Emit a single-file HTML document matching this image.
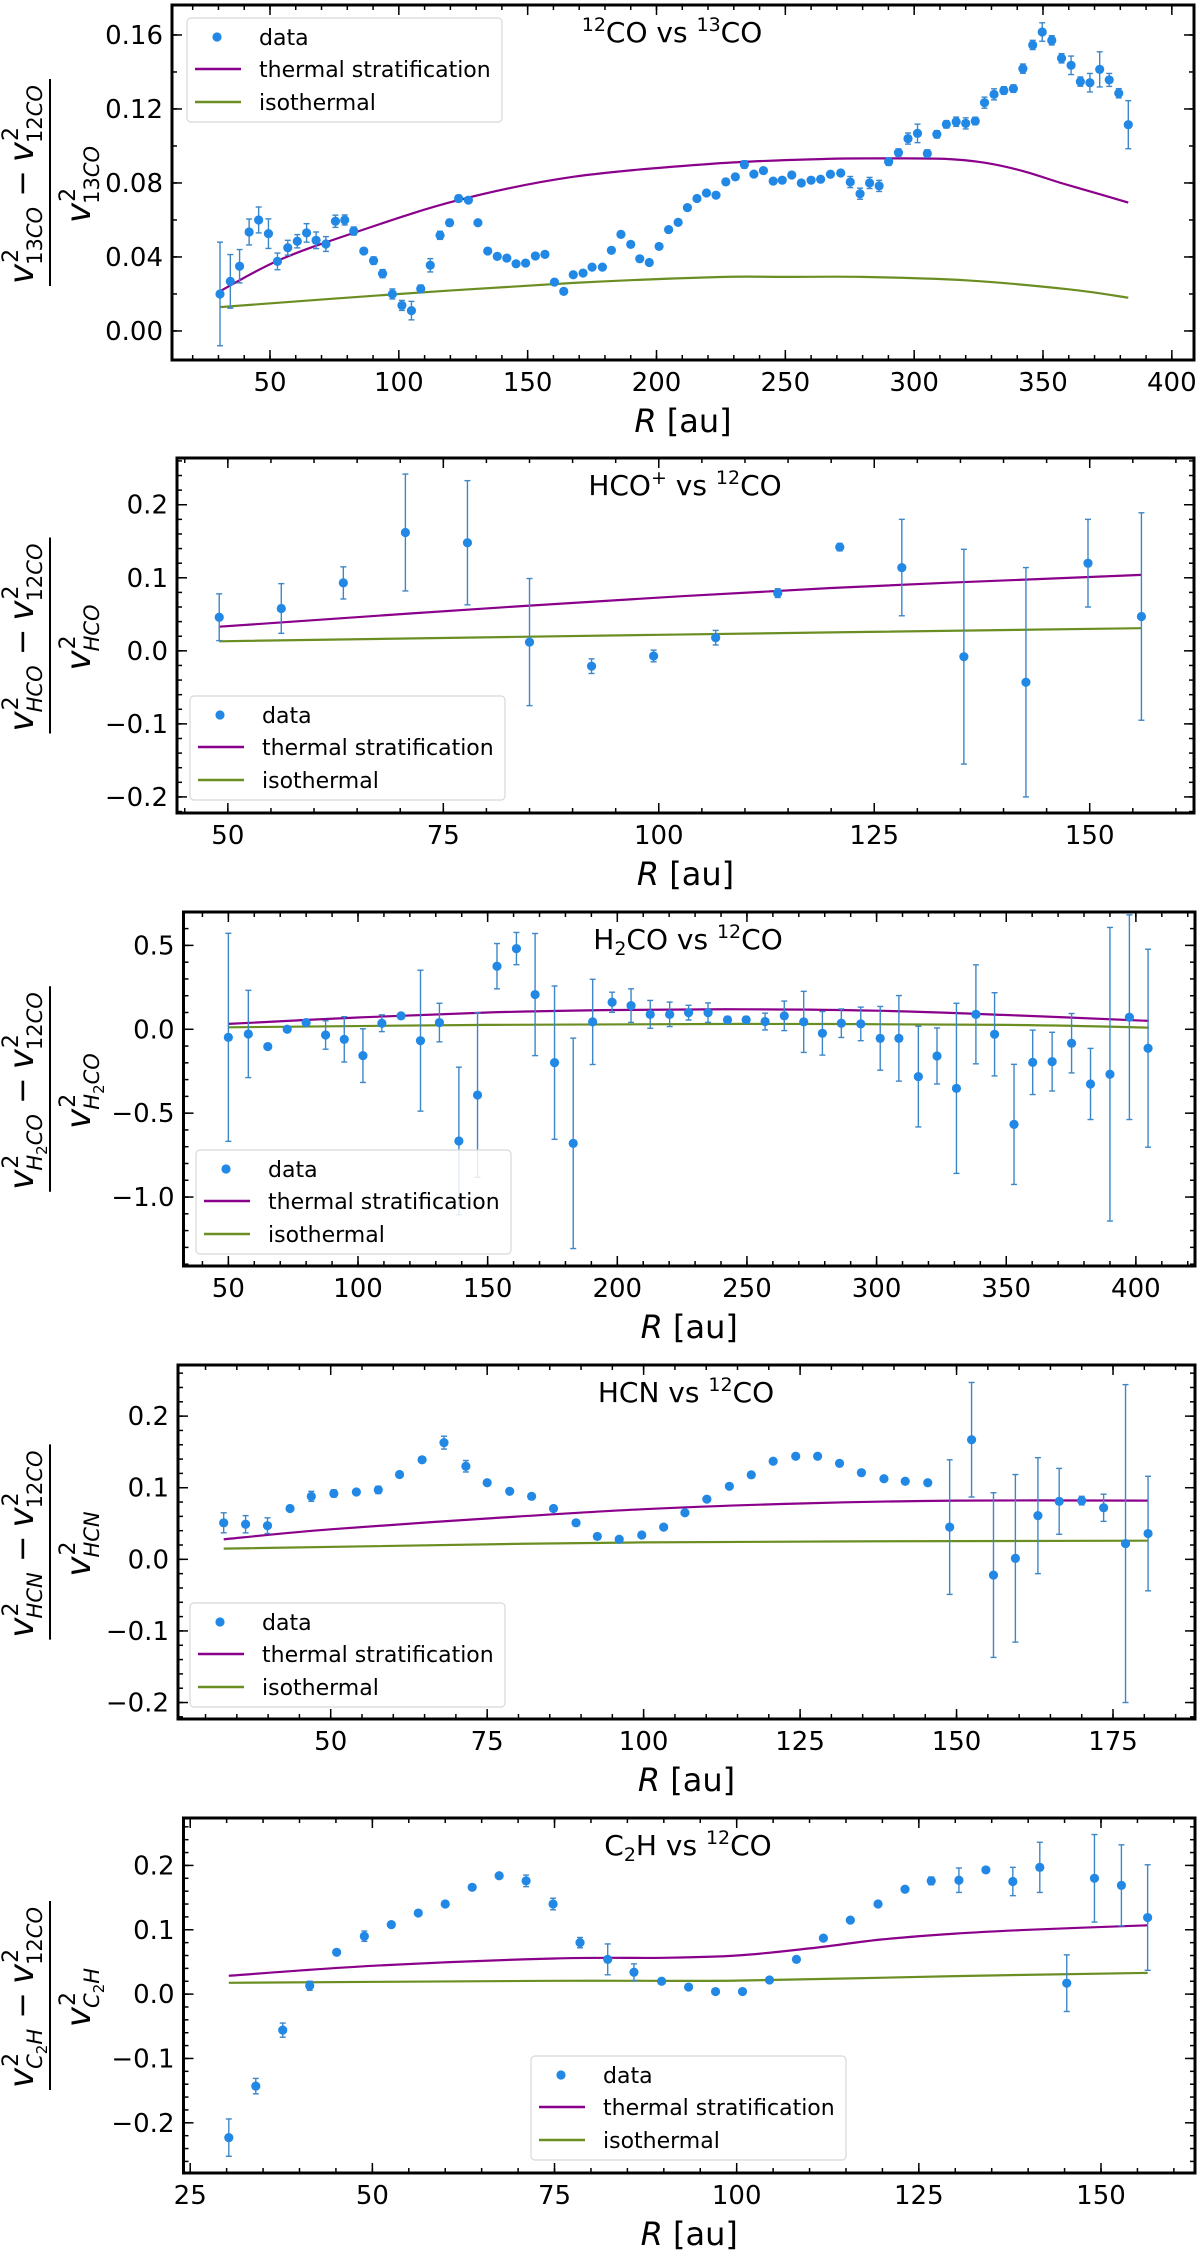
<!DOCTYPE html>
<html><head><meta charset="utf-8"><title>Velocity difference panels</title>
<style>
html,body{margin:0;padding:0;background:#fff;}
svg{display:block;font-family:"DejaVu Sans","Liberation Sans",sans-serif;}
</style></head>
<body>
<svg id="fig" width="1200" height="2251" viewBox="0 0 1200 2251" xmlns="http://www.w3.org/2000/svg">
<rect x="0" y="0" width="1200" height="2251" fill="#fff"/>
</svg>
<script>
// ---------- Panel 1 data: 12CO vs 13CO ----------
const p1R=[30.6,34.6,38.2,41.9,45.6,49.4,52.9,56.9,60.6,64.2,67.9,71.7,75.4,79,82.5,86.4,90.2,93.7,97.5,101.2,104.9,108.5,112.2,116,119.7,123.2,127,130.7,134.5,138.2,141.9,145.5,149.2,153,156.7,160.4,164,167.7,171.5,175,179,182.5,186.2,190,193.5,197.2,201,204.7,208.4,212,215.7,219.4,223.1,226.9,230.6,234.1,237.8,241.5,245.3,248.8,252.5,256.2,260,263.7,267.5,271.5,275.2,279,282.7,286.4,290.1,293.9,297.6,301.3,305.1,308.8,312.5,316.3,320,323.7,327.3,331,334.8,338.5,342.2,346,349.7,353.4,357.2,360.9,364.5,368.2,372,375.7,379.4,383.1];
const p1V=[0.020,0.0268,0.035,0.0535,0.060,0.0526,0.0376,0.045,0.0485,0.053,0.049,0.047,0.0593,0.060,0.054,0.0432,0.038,0.031,0.020,0.0138,0.011,0.0228,0.0355,0.0517,0.0585,0.0716,0.0707,0.0585,0.0432,0.0403,0.0394,0.0363,0.0367,0.0405,0.0414,0.0264,0.0214,0.0304,0.0313,0.0345,0.0345,0.0436,0.0522,0.0468,0.039,0.037,0.0457,0.0548,0.0587,0.0667,0.0716,0.0746,0.0734,0.0806,0.0833,0.090,0.0848,0.0867,0.081,0.0815,0.0843,0.080,0.0815,0.082,0.0847,0.0854,0.0805,0.0742,0.080,0.0784,0.0915,0.0964,0.104,0.1068,0.0959,0.1063,0.1117,0.1131,0.1122,0.1135,0.1234,0.1279,0.130,0.131,0.1418,0.1546,0.1616,0.1571,0.1474,0.1436,0.1348,0.1342,0.1414,0.1357,0.1285,0.1115];
const p1E=[0.028,0.0145,0.009,0.007,0.007,0.008,0.0045,0.004,0.0036,0.005,0.0045,0.004,0.0033,0.0027,0.0022,0.0015,0.002,0.0022,0.0027,0.0027,0.005,0.002,0.0036,0.0022,0.0018,0.0018,0.0015,0.0012,0.0012,0.0012,0.0015,0.0015,0.0015,0.0015,0.0015,0.0015,0.0015,0.0015,0.0015,0.0015,0.0015,0.0015,0.0015,0.0015,0.0015,0.0015,0.0015,0.0015,0.0015,0.0015,0.0015,0.0015,0.0015,0.0015,0.0015,0.002,0.0015,0.0015,0.0015,0.0015,0.0015,0.0015,0.0015,0.0015,0.0015,0.0015,0.003,0.003,0.003,0.003,0.002,0.002,0.003,0.005,0.002,0.002,0.002,0.0025,0.003,0.002,0.003,0.003,0.002,0.002,0.0025,0.0025,0.005,0.0025,0.0025,0.005,0.0025,0.005,0.0095,0.0035,0.0025,0.013];
const p1ThR=[30.6,53,82.5,123,168,223,266,290,312,327,342,357,372,383.1];
const p1ThV=[0.0215,0.038,0.053,0.0707,0.0834,0.0905,0.093,0.0933,0.093,0.091,0.0865,0.080,0.0739,0.0694];
const p1IsoR=[30.6,100,168,223,250,280,320,360,383.1];
const p1IsoV=[0.0129,0.020,0.026,0.0291,0.0292,0.0292,0.0274,0.0225,0.018];
const p1XTicks=[50,100,150,200,250,300,350,400];
const p1XLabels=["50","100","150","200","250","300","350","400"];
const p1YTicks=[0,0.04,0.08,0.12,0.16];
const p1YLabels=["0.00","0.04","0.08","0.12","0.16"];

// ---------- Panel 2 data: HCO+ vs 12CO ----------
const p2R=[49,56.2,63.4,70.6,77.8,85,92.2,99.4,106.6,113.8,121,128.2,135.4,142.6,149.8,156];
const p2V=[0.046,0.058,0.093,0.162,0.148,0.012,-0.021,-0.007,0.018,0.079,0.142,0.114,-0.008,-0.043,0.12,0.047];
const p2E=[0.032,0.034,0.022,0.08,0.085,0.087,0.01,0.008,0.01,0.006,0.005,0.066,0.147,0.157,0.06,0.142];
const p2ThR=[49,85,120,156];
const p2ThV=[0.033,0.062,0.086,0.104];
const p2IsoR=[49,100,156];
const p2IsoV=[0.013,0.022,0.031];
const p2XTicks=[50,75,100,125,150];
const p2XLabels=["50","75","100","125","150"];
const p2YTicks=[-0.2,-0.1,0,0.1,0.2];
const p2YLabels=["\u22120.2","\u22120.1","0.0","0.1","0.2"];

// ---------- Panel 3 data: H2CO vs 12CO ----------
const p3R=[50,57.7,65.2,72.7,80,87.5,94.7,101.9,109.2,116.6,124.1,131.4,138.9,146.1,153.6,161.1,168.3,175.8,183,190.5,198,205.3,212.7,220.2,227.5,235,242.5,249.7,257,264.4,271.9,279.1,286.4,293.9,301.4,308.6,316.1,323.3,330.8,338.3,345.5,353,360.2,367.7,375.2,382.5,390,397.5,404.7];
const p3V=[-0.048,-0.028,-0.103,0.0,0.04,-0.034,-0.06,-0.157,0.036,0.08,-0.068,0.04,-0.666,-0.392,0.376,0.481,0.207,-0.199,-0.68,0.044,0.161,0.141,0.089,0.089,0.099,0.099,0.056,0.056,0.046,0.08,0.044,-0.024,0.036,0.032,-0.054,-0.054,-0.282,-0.159,-0.352,0.089,-0.03,-0.567,-0.197,-0.193,-0.083,-0.326,-0.268,0.072,-0.113];
const p3E=[0.62,0.26,0.01,0.01,0.01,0.085,0.135,0.16,0.05,0.01,0.42,0.115,0.44,0.49,0.135,0.096,0.364,0.457,0.627,0.254,0.06,0.1,0.083,0.073,0.044,0.058,0.02,0.02,0.05,0.088,0.182,0.13,0.085,0.1,0.19,0.255,0.3,0.167,0.507,0.295,0.248,0.358,0.192,0.175,0.177,0.212,0.875,0.61,0.59];
const p3ThR=[50,100,150,200,250,300,350,405];
const p3ThV=[0.032,0.07,0.1,0.115,0.119,0.111,0.085,0.05];
const p3IsoR=[50,150,250,350,405];
const p3IsoV=[0.012,0.026,0.032,0.026,0.01];
const p3XTicks=[50,100,150,200,250,300,350,400];
const p3XLabels=["50","100","150","200","250","300","350","400"];
const p3YTicks=[-1.0,-0.5,0,0.5];
const p3YLabels=["\u22121.0","\u22120.5","0.0","0.5"];

// ---------- Panel 4 data: HCN vs 12CO ----------
const p4R=[32.9,36.4,39.9,43.5,46.9,50.5,54.1,57.6,61,64.6,68.1,71.6,75,78.6,82.1,85.6,89.2,92.6,96.1,99.7,103.2,106.6,110.1,113.7,117.2,120.7,124.3,127.8,131.3,134.8,138.4,141.8,145.4,148.9,152.4,155.9,159.4,163,166.4,170,173.5,177,180.6];
const p4V=[0.051,0.049,0.047,0.071,0.088,0.092,0.094,0.097,0.1185,0.139,0.163,0.130,0.107,0.095,0.088,0.071,0.051,0.032,0.028,0.034,0.045,0.065,0.084,0.102,0.118,0.137,0.144,0.144,0.134,0.121,0.1125,0.109,0.107,0.045,0.167,-0.022,0.0014,0.061,0.081,0.082,0.072,0.022,0.036];
const p4E=[0.014,0.012,0.011,0.004,0.007,0.005,0.003,0.005,0.003,0.004,0.009,0.008,0.003,0.003,0.003,0.003,0.003,0.003,0.003,0.003,0.003,0.003,0.003,0.003,0.003,0.003,0.003,0.003,0.003,0.003,0.003,0.003,0.003,0.094,0.08,0.115,0.117,0.081,0.046,0.006,0.019,0.222,0.08];
const p4ThR=[32.9,50,75,100,125,150,180.6];
const p4ThV=[0.028,0.042,0.057,0.07,0.078,0.082,0.082];
const p4IsoR=[32.9,100,180.6];
const p4IsoV=[0.015,0.0236,0.026];
const p4XTicks=[50,75,100,125,150,175];
const p4XLabels=["50","75","100","125","150","175"];
const p4YTicks=[-0.2,-0.1,0,0.1,0.2];
const p4YLabels=["\u22120.2","\u22120.1","0.0","0.1","0.2"];

// ---------- Panel 5 data: C2H vs 12CO ----------
const p5R=[30.3,34,37.7,41.4,45.1,48.9,52.6,56.3,60,63.7,67.4,71.1,74.8,78.5,82.3,85.9,89.7,93.4,97.1,100.8,104.5,108.2,111.9,115.6,119.4,123.1,126.7,130.5,134.2,137.9,141.6,145.3,149.1,152.8,156.4];
const p5V=[-0.223,-0.143,-0.056,0.013,0.065,0.09,0.108,0.126,0.14,0.166,0.184,0.176,0.14,0.08,0.054,0.034,0.02,0.011,0.004,0.004,0.022,0.054,0.087,0.115,0.14,0.163,0.176,0.177,0.193,0.175,0.197,0.017,0.18,0.169,0.119];
const p5E=[0.029,0.012,0.011,0.007,0.004,0.008,0.003,0.003,0.003,0.004,0.004,0.009,0.009,0.008,0.024,0.013,0.003,0.003,0.003,0.003,0.003,0.003,0.003,0.003,0.003,0.003,0.006,0.019,0.004,0.022,0.039,0.044,0.068,0.063,0.082];
const p5ThR=[30.3,50,75,90,100,110,120,130,140,156.4];
const p5ThV=[0.0285,0.044,0.0554,0.0565,0.06,0.071,0.085,0.094,0.1,0.107];
const p5IsoR=[30.3,75,100,130,156.4];
const p5IsoV=[0.0176,0.0207,0.021,0.028,0.033];
const p5XTicks=[25,50,75,100,125,150];
const p5XLabels=["25","50","75","100","125","150"];
const p5YTicks=[-0.2,-0.1,0,0.1,0.2];
const p5YLabels=["\u22120.2","\u22120.1","0.0","0.1","0.2"];

const NS="http://www.w3.org/2000/svg";
const fig=document.getElementById('fig');
function mk(tag,attrs,parent){const e=document.createElementNS(NS,tag);for(const k in attrs)e.setAttribute(k,attrs[k]);parent.appendChild(e);return e;}

const DATA_C="#2188e6", ERR_C="#3d87c9", TH_C="#8b008b", ISO_C="#6b8e23";

function vterm(g,x,base,subParts){
  const v=mk('text',{x:x,y:base,'font-size':34,'font-style':'italic'},g);v.textContent='v';
  const wv=v.getComputedTextLength();
  const s=mk('text',{x:x+wv+1,y:base-15,'font-size':22},g);s.textContent='2';
  const sub=mk('text',{x:x+wv-1,y:base+9,'font-size':21},g);
  subParts.forEach(p=>{const t=mk('tspan',{},sub);t.textContent=p[0];
    if(p[1]==='i')t.setAttribute('font-style','italic');
    if(p[1]==='s'){t.setAttribute('font-size',15);t.setAttribute('dy',5);}
    if(p[1]==='ib'){t.setAttribute('font-style','italic');t.setAttribute('dy',-5);}
  });
  return wv+Math.max(s.getComputedTextLength(),sub.getComputedTextLength())+3;
}

function smoothPath(pts){
  let d='M'+pts[0][0].toFixed(1)+','+pts[0][1].toFixed(1);
  for(let i=0;i<pts.length-1;i++){
    const p0=pts[Math.max(0,i-1)],p1=pts[i],p2=pts[i+1],p3=pts[Math.min(pts.length-1,i+2)];
    const c1=[p1[0]+(p2[0]-p0[0])/6,p1[1]+(p2[1]-p0[1])/6];
    const c2=[p2[0]-(p3[0]-p1[0])/6,p2[1]-(p3[1]-p1[1])/6];
    d+='C'+c1[0].toFixed(1)+','+c1[1].toFixed(1)+' '+c2[0].toFixed(1)+','+c2[1].toFixed(1)+' '+p2[0].toFixed(1)+','+p2[1].toFixed(1);
  }
  return d;
}

function drawPanel(n,c,R,V,E,thR,thV,isoR,isoV,xt,xl,yt,yl){
  const g=mk('g',{},fig);
  
  
  const sx=r=>c.L+(r-c.xmin)/(c.xmax-c.xmin)*(c.R-c.L);
  const sy=v=>c.B-(v-c.ymin)/(c.ymax-c.ymin)*(c.B-c.T);
  const cid='clip'+n;
  const cp=mk('clipPath',{id:cid},g);mk('rect',{x:c.L,y:c.T,width:c.R-c.L,height:c.B-c.T},cp);
  const tk=mk('g',{stroke:'#000','stroke-width':1.5},g);
  
  
  const tick=(x1,y1,x2,y2)=>mk('line',{x1:x1,y1:y1,x2:x2,y2:y2},tk);
  for(let v=Math.ceil(c.xmin/c.xm)*c.xm;v<=c.xmax;v+=c.xm){const x=sx(v);tick(x,c.B,x,c.B-5);tick(x,c.T,x,c.T+5);}
  for(let k=Math.ceil(c.ymin/c.ym);k*c.ym<=c.ymax;k++){const y=sy(k*c.ym);tick(c.L,y,c.L+5,y);tick(c.R,y,c.R-5,y);}
  xt.forEach((v,i)=>{const x=sx(v);tick(x,c.B,x,c.B-10);tick(x,c.T,x,c.T+10);
    const t=mk('text',{x:x,y:c.B+31,'font-size':26,'text-anchor':'middle'},g);t.textContent=xl[i];
    
    });
  yt.forEach((v,i)=>{const y=sy(v);tick(c.L,y,c.L+10,y);tick(c.R,y,c.R-10,y);
    const t=mk('text',{x:c.L-9,y:y+9,'font-size':26,'text-anchor':'end'},g);t.textContent=yl[i];
    
    });
  const line=(xs,ys,col,name)=>{const pts=xs.map((r,i)=>[sx(r),sy(ys[i])]);
    const p=mk('path',{d:smoothPath(pts),fill:'none',stroke:col,'stroke-width':2.2,'clip-path':'url(#'+cid+')'},g);
    
    };
  line(thR,thV,TH_C,'thermal-stratification-line');
  line(isoR,isoV,ISO_C,'isothermal-line');
  const dg=mk('g',{'clip-path':'url(#'+cid+')'},g);
  
  
  R.forEach((r,i)=>{const x=sx(r),y1=sy(V[i]+E[i]),y2=sy(V[i]-E[i]);
    mk('line',{x1:x,y1:y1,x2:x,y2:y2,stroke:ERR_C,'stroke-width':1.4},dg);
    mk('line',{x1:x-3,y1:y1,x2:x+3,y2:y1,stroke:ERR_C,'stroke-width':1.4},dg);
    mk('line',{x1:x-3,y1:y2,x2:x+3,y2:y2,stroke:ERR_C,'stroke-width':1.4},dg);
    const m=mk('circle',{cx:x,cy:sy(V[i]),r:4.6,fill:DATA_C},dg);
    
    });
  const fr=mk('rect',{x:c.L,y:c.T,width:c.R-c.L,height:c.B-c.T,fill:'none',stroke:'#000','stroke-width':3},g);
  
  
  const tt=mk('text',{x:c.tx,y:c.ty,'font-size':28,'text-anchor':'middle'},g);
  
  
  c.title.forEach(p=>{const s=mk('tspan',{},tt);s.textContent=p[0];
    if(p[1]==='sup'){s.setAttribute('font-size',19);s.setAttribute('dy',-11);}
    else if(p[1]==='sub'){s.setAttribute('font-size',19);s.setAttribute('dy',6);}
    else if(p[1]==='back'){s.setAttribute('dy',p[2]>0?11:-6);}});
  const xlab=mk('text',{x:(c.L+c.R)/2,y:c.B+72,'font-size':32,'text-anchor':'middle'},g);
  
  
  const a=mk('tspan',{'font-style':'italic'},xlab);a.textContent='R';
  const b=mk('tspan',{},xlab);b.textContent=' [au]';
  const yg=mk('g',{transform:'translate(50,'+((c.T+c.B)/2)+') rotate(-90)'},g);
  
  
  const ng=mk('g',{},yg);
  let w=vterm(ng,0,-17,c.num1);
  const mi=mk('text',{x:w+6,y:-17,'font-size':32},ng);mi.textContent='\u2212';
  w+=6+mi.getComputedTextLength()+8;
  w+=vterm(ng,w,-17,c.num2);
  ng.setAttribute('transform','translate('+(-w/2)+',0)');
  const dg2=mk('g',{},yg);
  const wd=vterm(dg2,0,40,c.den);
  dg2.setAttribute('transform','translate('+(-wd/2)+',0)');
  mk('line',{x1:-w/2-2,y1:0,x2:w/2+2,y2:0,stroke:'#000','stroke-width':2},yg);
  const lg=mk('g',{},g);
  
  
  mk('rect',{x:c.lx,y:c.ly,width:315,height:104,rx:4,fill:'#fff','fill-opacity':0.85,stroke:'#d8d8d8','stroke-width':1.2},lg);
  mk('circle',{cx:c.lx+30,cy:c.ly+19,r:4.6,fill:DATA_C},lg);
  mk('line',{x1:c.lx+8,y1:c.ly+51,x2:c.lx+54,y2:c.ly+51,stroke:TH_C,'stroke-width':2.4},lg);
  mk('line',{x1:c.lx+8,y1:c.ly+84,x2:c.lx+54,y2:c.ly+84,stroke:ISO_C,'stroke-width':2.4},lg);
  [['data',19],['thermal stratification',51],['isothermal',84]].forEach(e=>{
    const t=mk('text',{x:c.lx+72,y:c.ly+e[1]+8,'font-size':22},lg);t.textContent=e[0];
    
    });
}

drawPanel(1,{L:172,T:5,R:1194,B:360,xmin:11.97,xmax:408.6,ymin:-0.0157,ymax:0.1762,xm:10,ym:0.02,
  tx:672,ty:42,title:[['12','sup'],['CO  vs  ','back',10],['13','sup'],['CO','back',10]],
  num1:[['13','n'],['CO','i']],num2:[['12','n'],['CO','i']],den:[['13','n'],['CO','i']],lx:187,ly:18},
  p1R,p1V,p1E,p1ThR,p1ThV,p1IsoR,p1IsoV,p1XTicks,p1XLabels,p1YTicks,p1YLabels);
drawPanel(2,{L:177,T:458,R:1194,B:813,xmin:44.1,xmax:162.1,ymin:-0.222,ymax:0.264,xm:5,ym:0.02,
  tx:685,ty:495,title:[['HCO'],['+','sup'],[' vs ','back',10],['12','sup'],['CO','back',10]],
  num1:[['HCO','i']],num2:[['12','n'],['CO','i']],den:[['HCO','i']],lx:190,ly:696},
  p2R,p2V,p2E,p2ThR,p2ThV,p2IsoR,p2IsoV,p2XTicks,p2XLabels,p2YTicks,p2YLabels);
drawPanel(3,{L:183.5,T:912,R:1195,B:1266,xmin:32.7,xmax:422.8,ymin:-1.411,ymax:0.699,xm:10,ym:0.1,
  tx:688,ty:949,title:[['H'],['2','sub'],['CO vs ','back',-6],['12','sup'],['CO','back',10]],
  num1:[['H','i'],['2','s'],['CO','ib']],num2:[['12','n'],['CO','i']],den:[['H','i'],['2','s'],['CO','ib']],lx:196,ly:1150},
  p3R,p3V,p3E,p3ThR,p3ThV,p3IsoR,p3IsoV,p3XTicks,p3XLabels,p3YTicks,p3YLabels);
drawPanel(4,{L:178,T:1365,R:1195,B:1719,xmin:25.6,xmax:188.1,ymin:-0.223,ymax:0.2714,xm:5,ym:0.02,
  tx:686,ty:1402,title:[['HCN vs '],['12','sup'],['CO','back',10]],
  num1:[['HCN','i']],num2:[['12','n'],['CO','i']],den:[['HCN','i']],lx:190,ly:1603},
  p4R,p4V,p4E,p4ThR,p4ThV,p4IsoR,p4IsoV,p4XTicks,p4XLabels,p4YTicks,p4YLabels);
drawPanel(5,{L:183.5,T:1818,R:1195,B:2173,xmin:24.08,xmax:162.9,ymin:-0.278,ymax:0.2737,xm:5,ym:0.02,
  tx:688,ty:1855,title:[['C'],['2','sub'],['H vs ','back',-6],['12','sup'],['CO','back',10]],
  num1:[['C','i'],['2','s'],['H','ib']],num2:[['12','n'],['CO','i']],den:[['C','i'],['2','s'],['H','ib']],lx:531,ly:2056},
  p5R,p5V,p5E,p5ThR,p5ThV,p5IsoR,p5IsoV,p5XTicks,p5XLabels,p5YTicks,p5YLabels);
</script>
</body></html>
